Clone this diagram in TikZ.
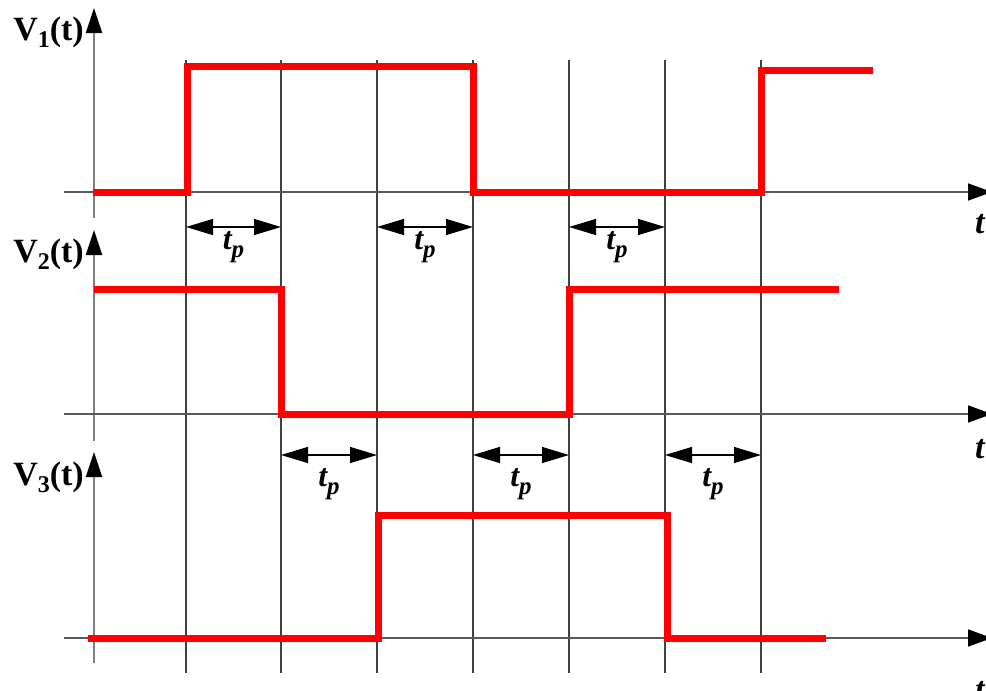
\documentclass[tikz,border=0pt]{standalone}
\usepackage{fontspec}
\setmainfont{Liberation Serif}
\usetikzlibrary{arrows.meta}
\begin{document}
\begin{tikzpicture}[x=1pt,y=-1pt,
 sig/.style={draw={rgb,255:red,255;green,0;blue,0}, line width=7pt, line join=miter, line cap=butt},
 haxis/.style={draw=black!65, line width=1.6pt, -{Triangle[length=24pt,width=17pt,black]}},
 vaxis/.style={draw=black!50, line width=2pt, -{Triangle[length=25pt,width=16pt,black]}},
 gridline/.style={draw=black!75, line width=1.2pt},
 dimarrow/.style={draw=black, line width=1.2pt, {Triangle[length=27pt,width=16pt]}-{Triangle[length=27pt,width=16pt]}},
 vlab/.style={font=\fontsize{34}{38}\selectfont\bfseries, anchor=base east, inner sep=0pt},
 tplab/.style={font=\fontsize{32}{34}\selectfont\bfseries\itshape, anchor=base, inner sep=0pt},
 tlab/.style={font=\fontsize{34}{36}\selectfont\bfseries\itshape, anchor=base west, inner sep=0pt}]
\useasboundingbox (0,0) rectangle (986,691);
% grid lines
\foreach \x in {186,281,377,473,569,665,761}
  \draw[gridline] (\x,60) -- (\x,673);
% vertical axes
\draw[vaxis] (94,218) -- (94,8);
\draw[vaxis] (94,441) -- (94,230);
\draw[vaxis] (94,663) -- (94,452);
% horizontal axes
\draw[haxis] (64,192) -- (992,192);
\draw[haxis] (64,414) -- (992,414);
\draw[haxis] (64,638) -- (992,638);
% axis labels
\node[vlab] (v1) at (84,40) {V\raisebox{-7pt}{\fontsize{24}{24}\selectfont 1}(t)};
\node[vlab] (v2) at (84,262) {V\raisebox{-7pt}{\fontsize{24}{24}\selectfont 2}(t)};
\node[vlab] (v3) at (84,485) {V\raisebox{-7pt}{\fontsize{24}{24}\selectfont 3}(t)};
\node[tlab] (t1) at (975,233) {t};
\node[tlab] (t2) at (975,458) {t};
\node[tlab] (t3) at (975,700) {t};
% signals
\draw[sig] (93,192) -- (187,192) -- (187,66) -- (473,66) -- (473,192) -- (761,192) -- (761,70) -- (873,70);
\draw[sig] (94,289) -- (281,289) -- (281,414) -- (569,414) -- (569,289) -- (839,289);
\draw[sig] (88,638) -- (378,638) -- (378,515) -- (667,515) -- (667,638) -- (826,638);
% delay arrows
\foreach \a/\b in {186/281,377/473,569/665}{
  \draw[dimarrow] (\a,227) -- (\b,227);
  \node[tplab] at ({(\a+\b)/2},249) {t\raisebox{-8pt}{\fontsize{25}{25}\selectfont p}};
}
\foreach \a/\b in {281/377,473/569,665/761}{
  \draw[dimarrow] (\a,455) -- (\b,455);
  \node[tplab] at ({(\a+\b)/2},486) {t\raisebox{-8pt}{\fontsize{25}{25}\selectfont p}};
}
\end{tikzpicture}
\end{document}
